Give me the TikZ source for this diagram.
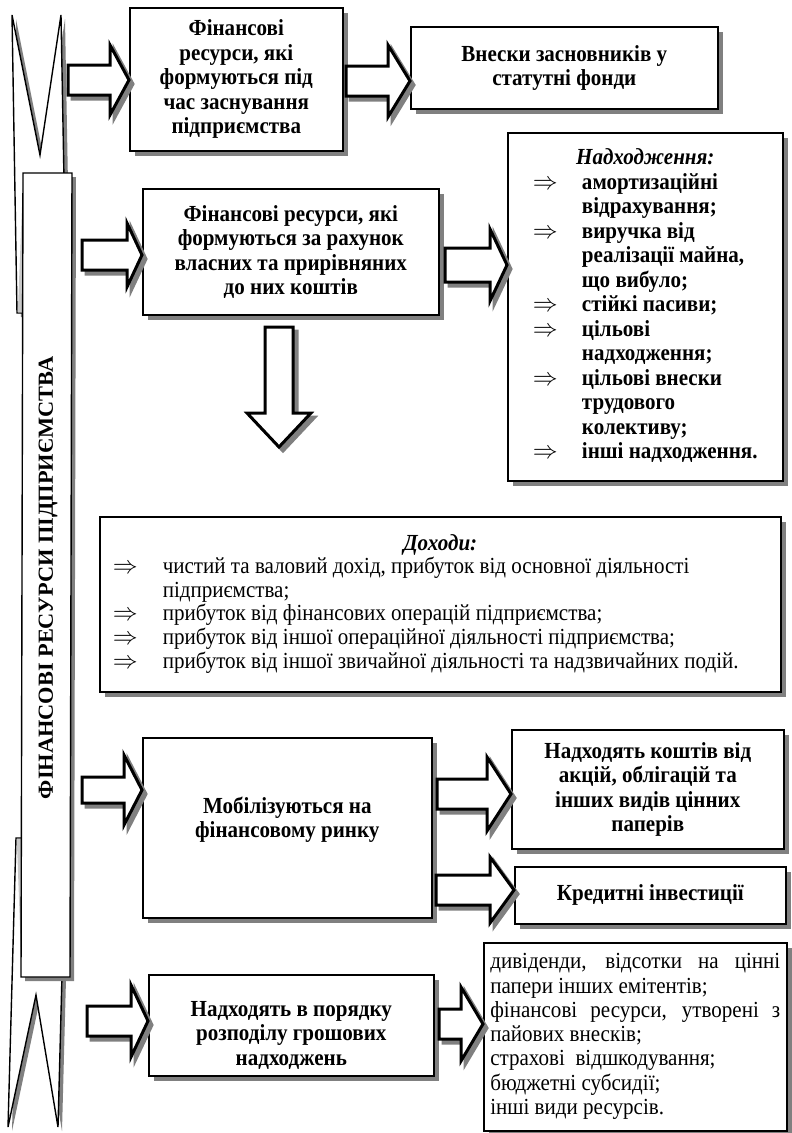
\documentclass[tikz,border=0pt]{standalone}
\usepackage{fontspec}
\setmainfont{Liberation Serif}[FakeStretch=0.915]
\newfontfamily\bandfont[FakeStretch=1.04]{Liberation Serif}
\usetikzlibrary{shadows,calc}
\definecolor{shad}{RGB}{128,128,128}
\definecolor{fold}{RGB}{200,200,200}
\tikzset{
  box/.style={draw, line width=1.6pt, fill=white, inner sep=0pt, anchor=north west,
    align=center, font=\fontsize{23}{24.5}\selectfont\bfseries,
    drop shadow={shadow xshift=5pt, shadow yshift=-5pt, fill=shad, draw=none, opacity=1}},
  plainbox/.style={box, font=\fontsize{23}{23.6}\selectfont},
  arr/.style={draw, line width=3pt, fill=white, line join=miter},
  arrsh/.style={draw=shad, fill=shad, line width=3pt, line join=miter},
  bandline/.style={draw, line width=1.4pt, fill=white, line join=miter},
  bandsh/.style={fill=shad},
}
% right block arrow: #1 start, #2 tip, #3 shaft half width, #4 head half width, #5 head length
\newcommand\rarr[5]{%
  \path[arrsh] let \p1=#1,\p2=#2 in
    (\x1+4pt,\y2+#3pt-4pt) -- (\x2-#5pt+4pt,\y2+#3pt-4pt) -- (\x2-#5pt+4pt,\y2+#4pt-4pt)
    -- (\x2+4pt,\y2-4pt) -- (\x2-#5pt+4pt,\y2-#4pt-4pt) -- (\x2-#5pt+4pt,\y2-#3pt-4pt)
    -- (\x1+4pt,\y2-#3pt-4pt) -- cycle;
  \path[arr] let \p1=#1,\p2=#2 in
    (\x1,\y2+#3pt) -- (\x2-#5pt,\y2+#3pt) -- (\x2-#5pt,\y2+#4pt)
    -- (\x2,\y2) -- (\x2-#5pt,\y2-#4pt) -- (\x2-#5pt,\y2-#3pt)
    -- (\x1,\y2-#3pt) -- cycle;}
% down block arrow
\newcommand\darr[5]{%
  \path[arrsh] let \p1=#1,\p2=#2 in
    (\x2-#3pt+4pt,\y1-4pt) -- (\x2+#3pt+4pt,\y1-4pt) -- (\x2+#3pt+4pt,\y2+#5pt-4pt)
    -- (\x2+#4pt+4pt,\y2+#5pt-4pt) -- (\x2+4pt,\y2-4pt) -- (\x2-#4pt+4pt,\y2+#5pt-4pt)
    -- (\x2-#3pt+4pt,\y2+#5pt-4pt) -- cycle;
  \path[arr] let \p1=#1,\p2=#2 in
    (\x2-#3pt,\y1) -- (\x2+#3pt,\y1) -- (\x2+#3pt,\y2+#5pt)
    -- (\x2+#4pt,\y2+#5pt) -- (\x2,\y2) -- (\x2-#4pt,\y2+#5pt)
    -- (\x2-#3pt,\y2+#5pt) -- cycle;}
\begin{document}
\begin{tikzpicture}[x=1pt,y=-1pt]
\useasboundingbox (0,0) rectangle (792,1133);
% ---- left banner ----
% top ribbon end
\path[bandsh] (16,19) -- (44,159) -- (65,19) -- (68,184) -- (44,184) -- (28,317) -- (21,317) -- cycle;
\path[bandline] (12,15) -- (40,155) -- (61,15) -- (64,180) -- (40,180) -- (24,313) -- (17,313) -- cycle;
\fill[fold] (17.8,312.3) -- (23,312.3) -- (23,182) -- cycle;
% bottom ribbon end
\path[bandsh] (20,842) -- (28,842) -- (54,964) -- (66,979) -- (62,1131) -- (40,999) -- (12,1131) -- cycle;
\path[bandline] (16,838) -- (24,838) -- (50,960) -- (62,975) -- (58,1127) -- (36,995) -- (8,1127) -- cycle;
\fill[fold] (16.8,838.8) -- (22.5,838.8) -- (21.3,962) -- cycle;
% main band
\path[bandsh] (27,177) -- (76,177) -- (74,981) -- (25,981) -- cycle;
\path[bandline] (23,173) -- (72,173) -- (70,977) -- (21,977) -- cycle;
\node[rotate=90, font=\bandfont\fontsize{21.5}{24}\selectfont\bfseries] (band) at (48,578) {ФІНАНСОВІ РЕСУРСИ ПІДПРИЄМСТВА};
% ---- boxes ----
\node[box, minimum width=213pt, minimum height=143pt] (b1) at (129,7)
  {Фінансові\\ресурси, які\\формуються під\\час заснування\\підприємства};
\node[box, minimum width=307pt, minimum height=82pt] (b2) at (410,26)
  {Внески засновників у\\статутні фонди};
\node[box, minimum width=296pt, minimum height=126pt] (b3) at (142,188)
  {Фінансові ресурси, які\\формуються за рахунок\\власних та прирівняних\\до них коштів};
\node[box, minimum width=275pt, minimum height=348pt] (b4) at (507,132)
  {\begin{tabular}{@{}p{49pt}@{}l@{}}
   \multicolumn{2}{@{}c@{}}{\itshape Надходження:}\\
   $\Rightarrow$ & амортизаційні\\
    & відрахування;\\
   $\Rightarrow$ & виручка від\\
    & реалізації майна,\\
    & що вибуло;\\
   $\Rightarrow$ & стійкі пасиви;\\
   $\Rightarrow$ & цільові\\
    & надходження;\\
   $\Rightarrow$ & цільові внески\\
    & трудового\\
    & колективу;\\
   $\Rightarrow$ & інші надходження.
  \end{tabular}};
\node[plainbox, minimum width=681pt, minimum height=175pt] (b5) at (99,516)
  {\begin{tabular}{@{}p{50pt}@{}p{605pt}@{}}
   \multicolumn{2}{@{}c@{}}{\bfseries\itshape Доходи:}\\
   $\Rightarrow$ & чистий та валовий дохід, прибуток від основної діяльності\\
    & підприємства;\\
   $\Rightarrow$ & прибуток від фінансових операцій підприємства;\\
   $\Rightarrow$ & прибуток від іншої операційної діяльності підприємства;\\
   $\Rightarrow$ & прибуток від іншої звичайної діяльності та надзвичайних подій.
  \end{tabular}};
\node[box, minimum width=289pt, minimum height=180pt] (b6) at (142,737)
  {\raisebox{1pt}[0pt][0pt]{\begin{tabular}{@{}c@{}}Мобілізуються на\\фінансовому ринку\end{tabular}}};
\node[box, minimum width=272pt, minimum height=119pt] (b7) at (511,729)
  {Надходять коштів від\\акцій, облігацій та\\інших видів цінних\\паперів};
\node[box, minimum width=271pt, minimum height=57pt] (b8) at (514,866)
  {Кредитні інвестиції};
\node[box, minimum width=285pt, minimum height=101pt] (b9) at (148,974)
  {\raisebox{-17pt}[0pt][0pt]{\begin{tabular}{@{}c@{}}Надходять в порядку\\розподілу грошових\\надходжень\end{tabular}}};
\node[plainbox, minimum width=303pt, minimum height=188pt, font=\fontsize{23}{24.3}\selectfont] (b10) at (483,942)
  {\begin{tabular}{@{}p{290pt}@{}}
   \makebox[290pt][s]{дивіденди, відсотки на цінні}\\
   папери інших емітентів;\\
   \makebox[290pt][s]{фінансові ресурси, утворені з}\\
   пайових внесків;\\
   страхові\ \ відшкодування;\\
   бюджетні субсидії;\\
   інші види ресурсів.
  \end{tabular}};
% ---- arrows ----
\coordinate (s1) at (68,80);
\coordinate (s2) at (346,81);
\coordinate (s3) at (82,255);
\coordinate (s4) at (445,265);
\coordinate (d1) at (279,327);
\coordinate (d2) at (279,447);
\coordinate (s5) at (82,790);
\coordinate (s6) at (437,794);
\coordinate (s7) at (436,890);
\coordinate (s8) at (87,1021);
\coordinate (s9) at (439,1024);
\rarr{(s1)}{(b1.west |- s1)}{15}{35}{19}
\rarr{(s2)}{(b2.west |- s2)}{15}{36}{22}
\rarr{(s3)}{(b3.west |- s3)}{15}{32}{15}
\rarr{(s4)}{(b4.west |- s4)}{17}{36}{17}
\darr{(d1)}{(d2)}{14}{32}{34}
\rarr{(s5)}{(b6.west |- s5)}{13}{35}{18}
\rarr{(s6)}{(b7.west |- s6)}{15}{37}{24}
\rarr{(s7)}{(b8.west |- s7)}{15}{33}{24}
\rarr{(s8)}{(b9.west |- s8)}{15}{36}{17}
\rarr{(s9)}{(b10.west |- s9)}{15}{37}{22}
\end{tikzpicture}
\end{document}
